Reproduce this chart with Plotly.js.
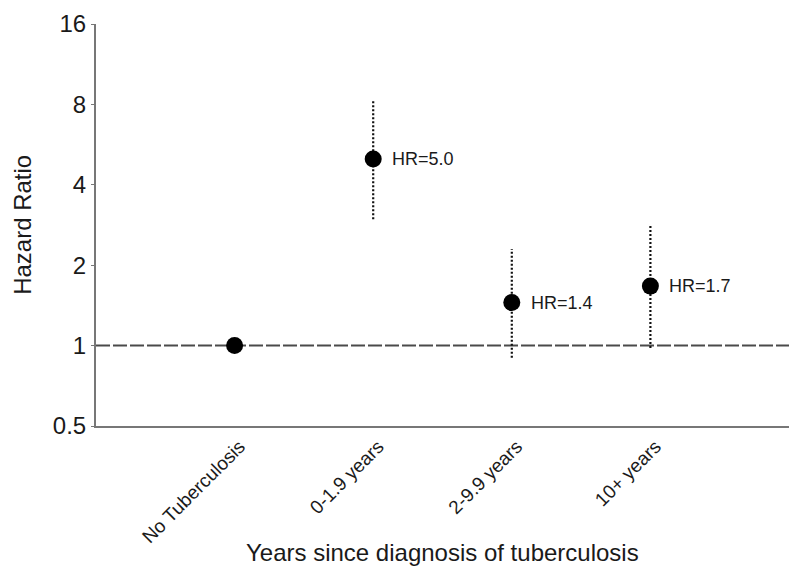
<!DOCTYPE html>
<html>
<head>
<meta charset="utf-8">
<script src="https://cdn.plot.ly/plotly-3.0.1.min.js"></script>
<style>html,body{margin:0;padding:0;background:#fff;}#chart{width:800px;height:587px;}</style>
</head>
<body>
<div id="chart"></div>
<script>
const categories = ["No Tuberculosis", "0-1.9 years", "2-9.9 years", "10+ years"];
const hazardRatio = [1.0, 5.0, 1.45, 1.67];
const ciLow = [null, 2.97, 0.90, 0.98];
const ciHigh = [null, 8.3, 2.3, 2.85];
const hrLabels = ["", "HR=5.0", "HR=1.4", "HR=1.7"];
const yTicks = [0.5, 1, 2, 4, 8, 16];
const yTickText = ["0.5", "1", "2", "4", "8", "16"];
const referenceLine = 1;

const FONT = "Liberation Sans, Arial, sans-serif";
const traces = [];
categories.forEach((c, i) => {
  if (ciLow[i] !== null) {
    traces.push({
      x: [c, c], y: [ciLow[i], ciHigh[i]], mode: "lines", type: "scatter",
      line: {color: "#111", width: 2.2, dash: "2px,2px"}, hoverinfo: "skip", showlegend: false
    });
  }
});
traces.push({
  x: categories, y: hazardRatio, mode: "markers", type: "scatter",
  marker: {color: "#000", size: 17}, showlegend: false
});

const annotations = [];
categories.forEach((c, i) => {
  if (hrLabels[i]) {
    annotations.push({x: c, y: Math.log10(hazardRatio[i]), xref: "x", yref: "y", text: hrLabels[i],
      showarrow: false, xanchor: "left", yanchor: "middle", xshift: 17,
      font: {family: FONT, size: 18, color: "#1a1a1a"}});
  }
});
annotations.push({x: 0.5, y: -0.314, xref: "paper", yref: "paper", text: "Years since diagnosis of tuberculosis",
  showarrow: false, xanchor: "center", yanchor: "middle", font: {family: FONT, size: 24, color: "#1a1a1a"}});
annotations.push({x: -0.107, y: 0.5, xref: "paper", yref: "paper", text: "Hazard Ratio", textangle: -90,
  showarrow: false, xanchor: "center", yanchor: "middle", font: {family: FONT, size: 24, color: "#1a1a1a"}});

const layout = {
  width: 800, height: 587,
  margin: {l: 96, r: 11, t: 24, b: 161, pad: 0},
  paper_bgcolor: "#fff", plot_bgcolor: "#fff",
  font: {family: FONT, color: "#1a1a1a"},
  showlegend: false,
  xaxis: {
    type: "category", categoryorder: "array", categoryarray: categories,
    range: [-1, 4], showgrid: false, zeroline: false,
    showline: true, linecolor: "#777", linewidth: 2,
    ticks: "", tickangle: -45, ticklabelshift: 5,
    tickfont: {family: FONT, size: 19, color: "#1a1a1a"}
  },
  yaxis: {
    type: "log", range: [Math.log10(0.5), Math.log10(16)],
    tickvals: yTicks, ticktext: yTickText,
    showgrid: false, zeroline: false,
    showline: true, linecolor: "#777", linewidth: 2,
    ticks: "outside", ticklen: 3, tickcolor: "#777", tickwidth: 1,
    tickfont: {family: FONT, size: 24, color: "#1a1a1a"}
  },
  shapes: [{type: "line", xref: "paper", x0: 0, x1: 1, yref: "y", y0: referenceLine, y1: referenceLine,
    line: {color: "#4a4a4a", width: 2, dash: "14px,3px"}, layer: "below"}],
  annotations: annotations
};
Plotly.newPlot("chart", traces, layout, {displayModeBar: false, staticPlot: true});
</script>
</body>
</html>
